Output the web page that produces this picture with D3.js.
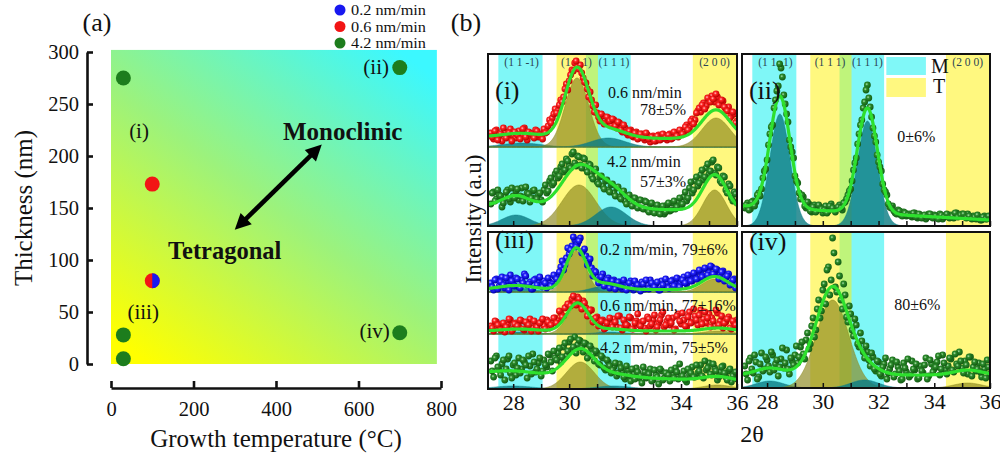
<!DOCTYPE html>
<html><head><meta charset="utf-8">
<script src="https://cdn.jsdelivr.net/npm/d3@7"></script>
<style>
body{margin:0;background:#fff}
svg{display:block}
text{font-family:"Liberation Serif","Times New Roman",serif;fill:#111}
</style>
</head><body>
<svg id="c" width="1000" height="458"></svg>
<script>
// ================= DATA =================
// ---- panel (a): growth conditions ----
const temp42 = [30, 700, 30, 30, 700];      // 4.2 nm/min samples, growth temperature (°C)
const thick42 = [275, 285, 28, 5, 30];      // thickness (nm)
const temp06 = [100, 100];                  // 0.6 nm/min
const thick06 = [173, 80];
const temp02 = [100];                       // 0.2 nm/min
const thick02 = [80];
const xTicksA = [0, 200, 400, 600, 800];
const yTicksA = [0, 50, 100, 150, 200, 250, 300];
const legendRates = ["0.2 nm/min", "0.6 nm/min", "4.2 nm/min"];

// ---- panel (b): XRD; points sampled at 27.20,27.30,... (A) and 27.25,27.35,... (B) ----
const thetaStart = 27.2, thetaStep = 0.1;
const xTicksB = [28, 29, 30, 31, 32, 33, 34, 35, 36];
const xLabelsB = [28, 30, 32, 34, 36];
const bandsM = [[27.47, 29.05], [30.6, 32.2]];
const bandsT = [[29.55, 31.03], [34.42, 36.0]];
const hklLabels = ["(1 1 -1)", "(1 1 1)", "(1 1 1)", "(2 0 0)"];
const hklPos = [28.3, 30.26, 31.6, 35.2];
const peakPhase = ["M", "T", "M", "T"];

// (i) 0.6 nm/min
const int_i_06 = [14,8,17,11,6,15,10,18,12, 9,16,12,19,7,14,11,17,10,13, 18,15,27,29,38, 36,47,50,63,66, 77,84,80,82,69, 64,50,47,35,34, 26,31,24,29,22, 27,19,24,15,19, 12,17,10,15,9, 13,7,12,5,11, 6,12,8,11,7, 13,9,14,10,16, 15,22,19,28,27, 36,35,44,41,48, 51,45,50,44,46, 38,40,31,33,26];
const int_i_06B = [10,16,7,13,19,9,14,6,15, 12,8,18,10,15,13,9,16,12,8, 14,21,24,33,34, 42,45,58,57,72, 76,86,78,74,65, 58,55,41,42,30, 33,23,30,26,28, 21,25,17,22,14, 16,11,14,8,13, 9,14,8,10,6, 11,7,13,9,12, 8,15,11,17,13, 20,17,26,23,34, 39,42,38,49,45, 48,53,42,47,40, 36,29,35,24];
const cen_i_06 = [28.3, 30.28, 31.4, 35.25], amp_i_06 = [4, 69, 9, 29], wid_i_06 = [0.7, 0.42, 0.6, 0.5], bg_i_06 = [10, 8];
// (i) 4.2 nm/min
const int_i_42 = [22,34,27,31,19,29,36,24,30, 35,26,38,29,33,24,35,28,31,26, 36,33,45,41,52, 48,59,54,67,60, 72,63,70,61,68, 57,62,50,55,44, 49,40,45,36,41, 33,38,29,34,25, 30,22,28,20,26, 18,25,16,22,14, 20,13,19,12,21, 15,23,17,24,19, 29,25,38,33,45, 40,51,46,58,52, 64,53,59,45,50, 36,42,28,34,23];
const int_i_42B = [33,25,36,30,23,34,27,38,28, 37,30,25,39,32,28,36,27,33,24, 41,35,48,43,55, 50,62,56,65,58, 74,60,69,58,67, 54,61,47,57,42, 50,37,46,34,42, 30,39,27,35,22, 31,20,28,18,26, 17,24,14,23,13, 21,12,20,14,23, 16,25,19,28,22, 34,28,44,36,49, 43,56,49,62,55, 66,51,58,43,49, 33,40,25,32];
const cen_i_42 = [28.1, 30.35, 31.5, 35.2], amp_i_42 = [11, 41, 19, 36], wid_i_42 = [0.5, 0.6, 0.55, 0.42], bg_i_42 = [20, 15];
// (ii) 4.2 nm/min, 700 °C, thick
const int_ii = [18,23,17,25,24,33,37,55,66, 92,101,126,140,158,131,112,86,74,50, 43,27,29,18,22, 14,21,16,19,13, 20,15,22,17,18, 21,16,24,31,37, 56,68,92,106,124, 141,119,98,84,64, 55,36,31,19,20, 13,16,11,14,10, 12,9,13,8,11, 10,7,12,9,11, 8,12,7,10,9, 11,8,13,10,12, 9,12,8,10,7, 9,6,10,7,8];
const int_iiB = [21,16,24,20,31,30,48,57,81, 99,118,135,162,149,122,104,79,68,45, 33,31,20,24,15, 19,14,21,17,16, 13,20,18,14,19, 18,23,27,35,45, 63,82,101,118,136, 128,109,90,71,59, 42,34,22,18,15, 12,15,10,13,11, 10,13,9,12,8, 11,9,12,8,10, 7,11,9,12,8, 10,13,9,11,12, 8,10,7,9,11, 6,9,7,10];
const cen_ii = [28.46, 30.3, 31.6, 35.2], amp_ii = [112, 0, 105, 0], wid_ii = [0.36, 0.4, 0.36, 0.4], bg_ii = [20, 6];
// (iii) 0.2 nm/min
const int_iii_02 = [9,2,13,6,15,4,11,17,8, 14,5,12,18,7,10,3,13,9,6, 11,4,10,8,15, 17,25,22,34,38, 46,52,48,54,41, 36,29,24,21,15, 13,18,9,14,7, 12,5,10,3,9, 6,11,2,8,4, 10,3,7,12,5, 8,2,11,6,9, 4,12,7,13,9, 15,8,14,11,17, 13,20,16,23,19, 25,18,22,15,21, 14,18,9,13,7];
const int_iii_02B = [5,12,3,10,7,14,2,11,6, 13,4,9,16,8,3,12,7,15,5, 9,14,6,17,13, 20,31,27,44,42, 55,45,51,39,43, 27,33,16,20,9, 15,6,12,4,11, 3,10,5,12,2, 9,4,11,7,1, 8,12,3,9,5, 10,2,7,13,4, 11,6,14,5,12, 9,17,11,19,13, 22,15,24,17,26, 18,23,13,20,11, 16,7,12,4];
const cen_iii_02 = [28.1, 30.25, 31.3, 35.2], amp_iii_02 = [4, 41, 6, 13], wid_iii_02 = [0.6, 0.35, 0.5, 0.45], bg_iii_02 = [2.5, 2.5];
// (iii) 0.6 nm/min
const int_iii_06 = [8,3,12,6,10,2,9,14,5, 11,7,13,4,9,15,6,10,3,12, 8,14,6,11,16, 13,21,18,27,30, 35,31,37,29,33, 26,22,24,15,17, 10,14,6,12,9, 15,7,18,4,11, 8,16,5,13,9, 12,6,17,8,14, 4,11,19,7,13, 9,16,5,20,10, 14,7,22,12,18, 9,24,15,11,20, 16,8,21,13,6, 12,17,5,10,14];
const int_iii_06B = [6,13,9,4,11,7,15,3,10, 8,14,5,12,9,3,13,7,11,15, 5,12,9,16,11, 23,17,26,30,28, 38,29,35,25,31, 18,24,12,16,8, 13,5,11,16,7, 12,18,6,14,9, 17,5,11,20,8, 13,3,15,10,19, 7,14,22,9,16, 11,4,18,13,21, 8,17,11,25,14, 19,10,22,16,7, 13,24,9,18,11, 15,6,13,9];
const cen_iii_06 = [28.2, 30.3, 31.5, 35.3], amp_iii_06 = [2, 28, 2, 3], wid_iii_06 = [0.6, 0.38, 0.5, 0.5], bg_iii_06 = [3, 3];
// (iii) 4.2 nm/min
const int_iii_42 = [28,12,33,19,25,9,30,16,24, 14,31,20,27,11,23,35,17,26,13, 29,22,34,18,31, 36,27,42,33,47, 39,52,44,48,37, 45,33,40,28,36, 24,31,19,27,16, 22,13,25,17,10, 19,8,15,21,11, 6,17,12,20,9, 14,5,18,11,16, 8,15,21,10,13, 18,7,14,22,12, 16,24,11,19,26, 14,21,9,17,23, 12,18,7,15,10];
const int_iii_42B = [18,31,22,14,29,20,33,11,26, 21,16,29,24,33,15,27,20,31,18, 24,35,27,38,29, 41,32,46,38,50, 42,36,49,41,46, 31,43,35,38,25, 33,21,29,23,19, 26,16,21,12,23, 14,20,10,17,13, 22,11,15,8,19, 12,20,9,16,14, 19,11,17,25,13, 9,20,16,12,24, 18,13,28,21,15, 25,18,12,22,16, 9,20,13,17];
const cen_iii_42 = [28.0, 30.4, 31.6, 35.3], amp_iii_42 = [3, 27, 3, 4], wid_iii_42 = [0.7, 0.5, 0.6, 0.5], bg_iii_42 = [16, 8];
// (iv) 4.2 nm/min, 700 °C, thin
const int_iv = [22,8,30,15,26,11,35,19,28, 16,33,24,12,29,20,38,14,27,33, 25,41,34,48,39, 62,51,79,70,98, 84,121,108,135,96, 112,79,93,66,74, 52,63,41,47,30, 36,22,31,17,26, 12,24,9,19,28, 14,21,8,25,16, 11,27,18,9,22, 15,30,12,24,19, 26,13,33,18,22, 29,16,24,36,20, 27,14,31,21,17, 25,11,19,28,14];
const int_ivB = [14,27,19,33,9,24,17,31,22, 36,18,28,21,40,25,19,30,23,42, 31,46,29,55,44, 70,58,88,77,104, 118,93,150,101,126, 88,104,71,82,58, 69,44,55,36,42, 28,35,19,27,14, 21,30,15,23,11, 26,17,9,20,29, 13,19,24,10,17, 23,9,28,16,21, 32,19,25,14,30, 18,34,22,27,15, 23,31,12,26,19, 16,24,10,21];
const cen_iv = [28.1, 30.35, 31.5, 35.2], amp_iv = [7, 88, 8, 5], wid_iv = [0.5, 0.58, 0.5, 0.5], bg_iv = [13, 13];

// ================= DRAW =================
const svg = d3.select("#c");
const defs = svg.append("defs");
const FONT = '"Liberation Serif","Times New Roman",serif';

const lg = defs.append("linearGradient").attr("id","phaseGrad")
  .attr("x1",0.12).attr("y1",1).attr("x2",0.88).attr("y2",0);
[[0,"#ffff00"],[0.5,"#9cf27c"],[1,"#3cf8ff"]].forEach(s=>lg.append("stop").attr("offset",s[0]).attr("stop-color",s[1]));

function ball(id, light, mid, dark){
  const g = defs.append("radialGradient").attr("id",id).attr("cx","40%").attr("cy","38%").attr("r","62%");
  g.append("stop").attr("offset","0%").attr("stop-color",light);
  g.append("stop").attr("offset","35%").attr("stop-color",mid);
  g.append("stop").attr("offset","100%").attr("stop-color",dark);
}
ball("ballG","#b0e0b0","#2a8a2a","#135a13");
ball("ballR","#ffc4c4","#ff2424","#b80000");
ball("ballB","#c4c4ff","#2424ff","#0000a8");

// ---------- panel (a) ----------
const xA = d3.scaleLinear().domain([0,800]).range([111,441]);
const yA = d3.scaleLinear().domain([0,300]).range([364,52]);
const gA = svg.append("g");
gA.append("rect").attr("x",xA(0)).attr("y",yA(302)).attr("width",xA(790)-xA(0)).attr("height",yA(0)-yA(302))
  .attr("fill","url(#phaseGrad)");

const yAxisA = d3.axisLeft(yA).tickValues(yTicksA).tickSizeInner(-6).tickSizeOuter(0).tickPadding(8);
gA.append("g").attr("transform","translate(87,0)").call(yAxisA)
  .call(g=>{g.select(".domain").attr("stroke","#111").attr("stroke-width",2.6);
    g.selectAll(".tick line").attr("stroke","#111").attr("stroke-width",2.6);
    g.selectAll("text").attr("font-family",FONT).attr("font-size",20.5).attr("fill","#111");});
const xAxisA = d3.axisBottom(xA).tickValues(xTicksA).tickSizeInner(-7).tickSizeOuter(0).tickPadding(13);
gA.append("g").attr("transform","translate(0,388)").call(xAxisA)
  .call(g=>{g.select(".domain").attr("stroke","#111").attr("stroke-width",2.6);
    g.selectAll(".tick line").attr("stroke","#111").attr("stroke-width",2.6);
    g.selectAll("text").attr("font-family",FONT).attr("font-size",20.5).attr("fill","#111");});

gA.append("text").attr("x",276).attr("y",447).attr("text-anchor","middle").attr("font-size",25).text("Growth temperature (°C)");
gA.append("text").attr("transform","translate(32,208) rotate(-90)").attr("text-anchor","middle").attr("font-size",25).text("Thickness (nm)");
gA.append("text").attr("x",97).attr("y",31).attr("text-anchor","middle").attr("font-size",26).text("(a)");

// arrow
const arrowPts = [[300,129],[511,211]];
const ax1 = xA(arrowPts[0][0]), ay1 = yA(arrowPts[0][1]), ax2 = xA(arrowPts[1][0]), ay2 = yA(arrowPts[1][1]);
const ang = Math.atan2(ay2-ay1, ax2-ax1), hl = 16, hw = 8;
const ux = Math.cos(ang), uy = Math.sin(ang);
gA.append("line").attr("x1",ax1+ux*hl*0.8).attr("y1",ay1+uy*hl*0.8).attr("x2",ax2-ux*hl*0.8).attr("y2",ay2-uy*hl*0.8)
  .attr("stroke","#000").attr("stroke-width",4.5);
function head(tx,ty,dx,dy){
  const bx = tx-dx*hl, by = ty-dy*hl;
  gA.append("path").attr("d",`M${tx},${ty}L${bx-dy*hw},${by+dx*hw}L${bx+dy*hw},${by-dx*hw}Z`).attr("fill","#000");
}
head(ax2,ay2,ux,uy); head(ax1,ay1,-ux,-uy);

gA.append("text").attr("x",xA(417)).attr("y",yA(215)).attr("font-size",25).attr("font-weight","bold").text("Monoclinic");
gA.append("text").attr("x",xA(138)).attr("y",yA(101)).attr("font-size",24.5).attr("font-weight","bold").text("Tetragonal");
gA.append("text").attr("x",xA(68)).attr("y",yA(217)).attr("text-anchor","middle").attr("font-size",21).text("(i)");
gA.append("text").attr("x",xA(674)).attr("y",yA(279)).attr("text-anchor","end").attr("font-size",21).text("(ii)");
gA.append("text").attr("x",xA(78)).attr("y",yA(43)).attr("text-anchor","middle").attr("font-size",21).text("(iii)");
gA.append("text").attr("x",xA(676)).attr("y",yA(25)).attr("text-anchor","end").attr("font-size",21).text("(iv)");

const RA = 7.5;
const green = "#1d7d1d", red = "#f21515", blue = "#1818f0";
gA.selectAll(".p42").data(temp42.map((t,i)=>[t,thick42[i]])).join("circle").attr("class","p42")
  .attr("cx",d=>xA(d[0])).attr("cy",d=>yA(d[1])).attr("r",RA).attr("fill",green);
gA.selectAll(".p06").data(temp06.map((t,i)=>[t,thick06[i]])).join("circle").attr("class","p06")
  .attr("cx",d=>xA(d[0])).attr("cy",d=>yA(d[1])).attr("r",RA).attr("fill",red);
const halfArc = d3.arc().innerRadius(0).outerRadius(RA).startAngle(0).endAngle(Math.PI);
gA.selectAll(".p02").data(temp02.map((t,i)=>[t,thick02[i]])).join("path").attr("class","p02")
  .attr("transform",d=>`translate(${xA(d[0])},${yA(d[1])})`).attr("d",halfArc()).attr("fill",blue);

const legCol = [blue, red, green];
legendRates.forEach((r,i)=>{
  const y = 10 + i*16.5;
  gA.append("circle").attr("cx",340).attr("cy",y).attr("r",5.5).attr("fill",legCol[i]);
  gA.append("text").attr("x",351).attr("y",y+5).attr("font-size",14.8)
    .attr("textLength",75).attr("lengthAdjust","spacingAndGlyphs").text(r);
});

// ---------- panel (b) ----------
svg.append("text").attr("x",466).attr("y",31).attr("text-anchor","middle").attr("font-size",26).text("(b)");
svg.append("text").attr("transform","translate(481,219) rotate(-90)").attr("text-anchor","middle").attr("font-size",23).text("Intensity (a.u)");
svg.append("text").attr("x",752).attr("y",442).attr("text-anchor","middle").attr("font-size",24).text("2θ");

const panels = [
  {key:"i", box:[488,737,54,226], label:"(i)", labelPos:[27.35,127], hkl:true, legend:false,
   series:[
     {data:int_i_06, dataB:int_i_06B, off:79, cen:cen_i_06, amp:amp_i_06, wid:wid_i_06, bg:bg_i_06, ball:"ballR"},
     {data:int_i_42, dataB:int_i_42B, off:0,  cen:cen_i_42, amp:amp_i_42, wid:wid_i_42, bg:bg_i_42, ball:"ballG"}],
   notes:[["0.6 nm/min",31.39,128],["78±5%",32.53,111],["4.2 nm/min",31.35,59],["57±3%",32.53,39]], noteSize:16},
  {key:"ii", box:[742,990,54,226], label:"(ii)", labelPos:[27.35,127], hkl:true, legend:true,
   series:[{data:int_ii, dataB:int_iiB, off:0, cen:cen_ii, amp:amp_ii, wid:wid_ii, bg:bg_ii, ball:"ballG"}],
   notes:[["0±6%",32.67,84]], noteSize:16},
  {key:"iii", box:[488,737,232,389], label:"(iii)", labelPos:[27.35,141], hkl:false, legend:false,
   series:[
     {data:int_iii_02, dataB:int_iii_02B, off:97, cen:cen_iii_02, amp:amp_iii_02, wid:wid_iii_02, bg:bg_iii_02, ball:"ballB"},
     {data:int_iii_06, dataB:int_iii_06B, off:55, cen:cen_iii_06, amp:amp_iii_06, wid:wid_iii_06, bg:bg_iii_06, ball:"ballR"},
     {data:int_iii_42, dataB:int_iii_42B, off:0,  cen:cen_iii_42, amp:amp_iii_42, wid:wid_iii_42, bg:bg_iii_42, ball:"ballG"}],
   notes:[["0.2 nm/min, 79±6%",31.1,134],["0.6 nm/min, 77±16%",31.1,78],["4.2 nm/min, 75±5%",31.1,36]], noteSize:16},
  {key:"iv", box:[742,990,232,388], label:"(iv)", labelPos:[27.35,138], hkl:false, legend:false,
   series:[{data:int_iv, dataB:int_ivB, off:0, cen:cen_iv, amp:amp_iv, wid:wid_iv, bg:bg_iv, ball:"ballG"}],
   notes:[["80±6%",32.56,78]], noteSize:16}
];

const renderGrid = d3.range(27.1, 36.0001, 0.02);
function peak(s,k,t){ return s.amp[k]*Math.exp(-((t-s.cen[k])**2)/(2*s.wid[k]**2)); }
function bgAt(s,t){ return s.bg[0] + (s.bg[1]-s.bg[0])*(t-27.1)/8.9; }

panels.forEach(p=>{
  const [x0,x1,y0,y1] = p.box;
  const x = d3.scaleLinear().domain([27.1,36.0]).range([x0,x1]);
  const y = d3.scaleLinear().domain([0,y1-y0]).range([y1,y0]);
  const g = svg.append("g");
  const cid = "clip_"+p.key;
  defs.append("clipPath").attr("id",cid).append("rect").attr("x",x0).attr("y",y0).attr("width",x1-x0).attr("height",y1-y0);
  const c = g.append("g").attr("clip-path",`url(#${cid})`);
  c.append("rect").attr("x",x0).attr("y",y0).attr("width",x1-x0).attr("height",y1-y0).attr("fill","#fff");
  bandsM.forEach(b=>c.append("rect").attr("x",x(b[0])).attr("y",y0).attr("width",x(b[1])-x(b[0])).attr("height",y1-y0).attr("fill","#00f0f0").attr("opacity",0.5));
  bandsT.forEach(b=>c.append("rect").attr("x",x(b[0])).attr("y",y0).attr("width",x(b[1])-x(b[0])).attr("height",y1-y0).attr("fill","#fff200").attr("opacity",0.5));
  if(p.hkl){
    hklLabels.forEach((h,i)=>c.append("text").attr("x",x(hklPos[i])).attr("y",y0+12).attr("text-anchor","middle")
      .attr("font-size",11.5).style("fill","#2c4654").text(h));
  }
  p.series.forEach(s=>{
    peakPhase.forEach((ph,k)=>{
      const area = d3.area().x(t=>x(t)).y0(y(s.off)).y1(t=>y(s.off+peak(s,k,t)));
      const col = ph==="M" ? "#0d7c84" : "#8a861c";
      c.append("path").attr("d",area(renderGrid)).attr("fill",col).attr("fill-opacity",ph==="M"?0.82:0.66)
        .attr("stroke",col).attr("stroke-opacity",0.6).attr("stroke-width",0.8);
    });
  });
  p.series.forEach(s=>{
    const pts = s.data.map((d,i)=>[thetaStart+i*thetaStep, d])
      .concat(s.dataB.map((d,i)=>[thetaStart+thetaStep/2+i*thetaStep, d]));
    c.append("g").selectAll("circle").data(pts).join("circle")
      .attr("cx",d=>x(d[0])).attr("cy",d=>y(s.off+d[1])).attr("r",3.4)
      .attr("fill",`url(#${s.ball})`);
  });
  p.series.forEach(s=>{
    const line = d3.line().x(t=>x(t)).y(t=>y(s.off+bgAt(s,t)+d3.sum(peakPhase,(ph,k)=>peak(s,k,t))));
    c.append("path").attr("d",line(renderGrid)).attr("fill","none").attr("stroke","#2ee02e").attr("stroke-width",3.2);
  });
  p.notes.forEach(n=>g.append("text").attr("x",x(n[1])).attr("y",y(n[2])).attr("font-size",p.noteSize).text(n[0]));
  g.append("text").attr("x",x(p.labelPos[0])).attr("y",y(p.labelPos[1])).attr("font-size",26).text(p.label);
  if(p.legend){
    c.append("rect").attr("x",x(32.28)).attr("y",y(169)).attr("width",x(33.7)-x(32.28)).attr("height",18).attr("fill","#80f8f8");
    c.append("rect").attr("x",x(32.28)).attr("y",y(148)).attr("width",x(33.7)-x(32.28)).attr("height",19).attr("fill","#fff880");
    g.append("text").attr("x",x(33.88)).attr("y",y(153)).attr("font-size",20).text("M");
    g.append("text").attr("x",x(33.95)).attr("y",y(133)).attr("font-size",20).text("T");
  }
  const ax = d3.axisBottom(x).tickValues(xTicksB).tickSizeInner(-5).tickSizeOuter(0).tickPadding(5)
    .tickFormat(d=> (p.key==="iii"||p.key==="iv") && xLabelsB.includes(d) ? d : "");
  g.append("g").attr("transform",`translate(0,${y1})`).call(ax)
    .call(a=>{a.select(".domain").remove();
      a.selectAll(".tick line").attr("stroke","#111").attr("stroke-width",1.5);
      a.selectAll("text").attr("font-family",FONT).attr("font-size",22).attr("fill","#111");});
  g.append("rect").attr("x",x0).attr("y",y0).attr("width",x1-x0).attr("height",y1-y0)
    .attr("fill","none").attr("stroke","#111").attr("stroke-width",2);
});
</script>
</body></html>
